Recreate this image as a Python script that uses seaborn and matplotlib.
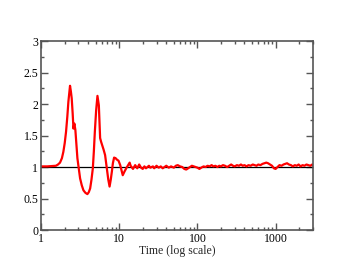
import numpy as np
import pandas as pd
import matplotlib
matplotlib.use('Agg')
import matplotlib.pyplot as plt
from matplotlib.ticker import LogLocator, MultipleLocator, FixedLocator, NullFormatter
import seaborn as sns

# time points (log axis) and response values
time = [1.0, 1.2, 1.4, 1.55, 1.65, 1.75, 1.85, 1.93, 2.01, 2.09, 2.17, 2.24, 2.3, 2.35,
        2.41, 2.47, 2.54, 2.6, 2.67, 2.75, 2.83, 2.92, 3.04, 3.16, 3.32, 3.49, 3.7, 3.92,
        4.08, 4.25, 4.42, 4.6, 4.74, 4.88, 5.07, 5.27, 5.49, 5.7, 5.87, 6.05, 6.3, 6.6,
        6.95, 7.25, 7.53, 7.8, 8.06, 8.3, 8.6, 9.0, 9.3, 9.8, 10.3, 11.1, 11.7, 12.3, 13.6,
        14, 15, 16, 17, 18, 19, 20, 21, 22, 24, 25, 27, 28, 30, 32, 34, 36, 38, 40, 43,
        46, 50, 53, 56, 60, 64, 68, 72, 76, 80, 85, 90, 95, 100, 106, 112, 120, 127, 135,
        143, 152, 160, 170, 180, 190, 200, 212, 225, 240, 255, 270, 285, 300, 320, 340,
        360, 380, 400, 425, 450, 480, 510, 540, 570, 600, 640, 680, 720, 760, 800, 850,
        900, 950, 1000, 1060, 1120, 1190, 1260, 1330, 1400, 1480, 1570, 1660, 1760, 1860,
        1970, 2090, 2210, 2340, 2480, 2630, 2780, 2940, 3000]
value = [1.01, 1.01, 1.015, 1.02, 1.04, 1.07, 1.14, 1.24, 1.38, 1.56, 1.8, 2.04, 2.18, 2.29,
         2.2, 2.09, 1.85, 1.61, 1.69, 1.59, 1.38, 1.14, 0.97, 0.82, 0.71, 0.63, 0.59, 0.57,
         0.6, 0.66, 0.8, 0.98, 1.25, 1.56, 1.9, 2.13, 1.98, 1.46, 1.4, 1.35, 1.28, 1.19,
         0.98, 0.8, 0.69, 0.8, 0.93, 1.06, 1.15, 1.14, 1.12, 1.1, 1.03, 0.87, 0.93, 0.98, 1.07,
         1.02, 0.97, 1.03, 0.98, 1.04, 0.99, 0.97, 1.01, 0.98, 1.02, 0.99, 1.01, 0.98, 1.02,
         0.99, 1.01, 0.98, 1.00, 1.02, 0.99, 1.01, 0.99, 1.02, 1.03, 1.01, 1.00, 0.97, 0.96,
         0.98, 1.00, 1.02, 1.01, 1.00, 0.99, 0.97, 0.99, 1.01, 1.00, 1.02, 1.01, 1.03, 1.01,
         1.02, 1.00, 1.02, 1.01, 1.03, 1.02, 1.00, 1.02, 1.04, 1.02, 1.01, 1.03, 1.02, 1.04,
         1.02, 1.03, 1.01, 1.03, 1.02, 1.04, 1.03, 1.02, 1.04, 1.03, 1.05, 1.06, 1.07, 1.06,
         1.04, 1.02, 0.98, 0.97, 1.00, 1.03, 1.02, 1.04, 1.05, 1.06, 1.04, 1.03, 1.01, 1.03,
         1.02, 1.04, 1.01, 1.03, 1.02, 1.04, 1.03, 1.02, 1.04, 1.03]

ref_level = 1.0
y_ticks = [0, 0.5, 1, 1.5, 2, 2.5, 3]
y_labels = ['0', '0.5', '1', '1.5', '2', '2.5', '3']
x_ticks = [1, 10, 100, 1000]
x_labels = ['1', '10', '100', '1000']

df = pd.DataFrame({'time': time, 'value': value})

sns.set_style('ticks')
plt.rcParams['font.family'] = ['Liberation Serif', 'DejaVu Serif']

fig = plt.figure(figsize=(3.52, 2.72), dpi=100)
ax = fig.add_axes([0.1165, 0.1544, 0.7725, 0.6946])

ax.axhline(ref_level, color='black', linewidth=0.9, zorder=1)
sns.lineplot(data=df, x='time', y='value', color='red', linewidth=1.6, ax=ax,
             sort=False, zorder=2)

ax.set_xscale('log')
ax.set_xlim(1, 3000)
ax.set_ylim(0, 3)
ax.xaxis.set_major_locator(FixedLocator(x_ticks))
ax.set_xticklabels(x_labels)
ax.xaxis.set_minor_locator(LogLocator(base=10, subs=np.arange(2, 10)))
ax.xaxis.set_minor_formatter(NullFormatter())
ax.set_yticks(y_ticks)
ax.set_yticklabels(y_labels)
ax.yaxis.set_minor_locator(MultipleLocator(0.25))

ax.set_xlabel('Time (log scale)', fontsize=8.5, labelpad=0.5)
ax.set_ylabel('')

for sp in ax.spines.values():
    sp.set_color('#555555')
    sp.set_linewidth(1.2)
ax.tick_params(which='both', direction='in', top=True, right=True, colors='#555555',
               labelcolor='black', labelsize=8.5, pad=2)
ax.tick_params(which='major', length=5, width=1)
ax.tick_params(which='minor', length=2.5, width=1)

fig.savefig('out.png', dpi=100)
